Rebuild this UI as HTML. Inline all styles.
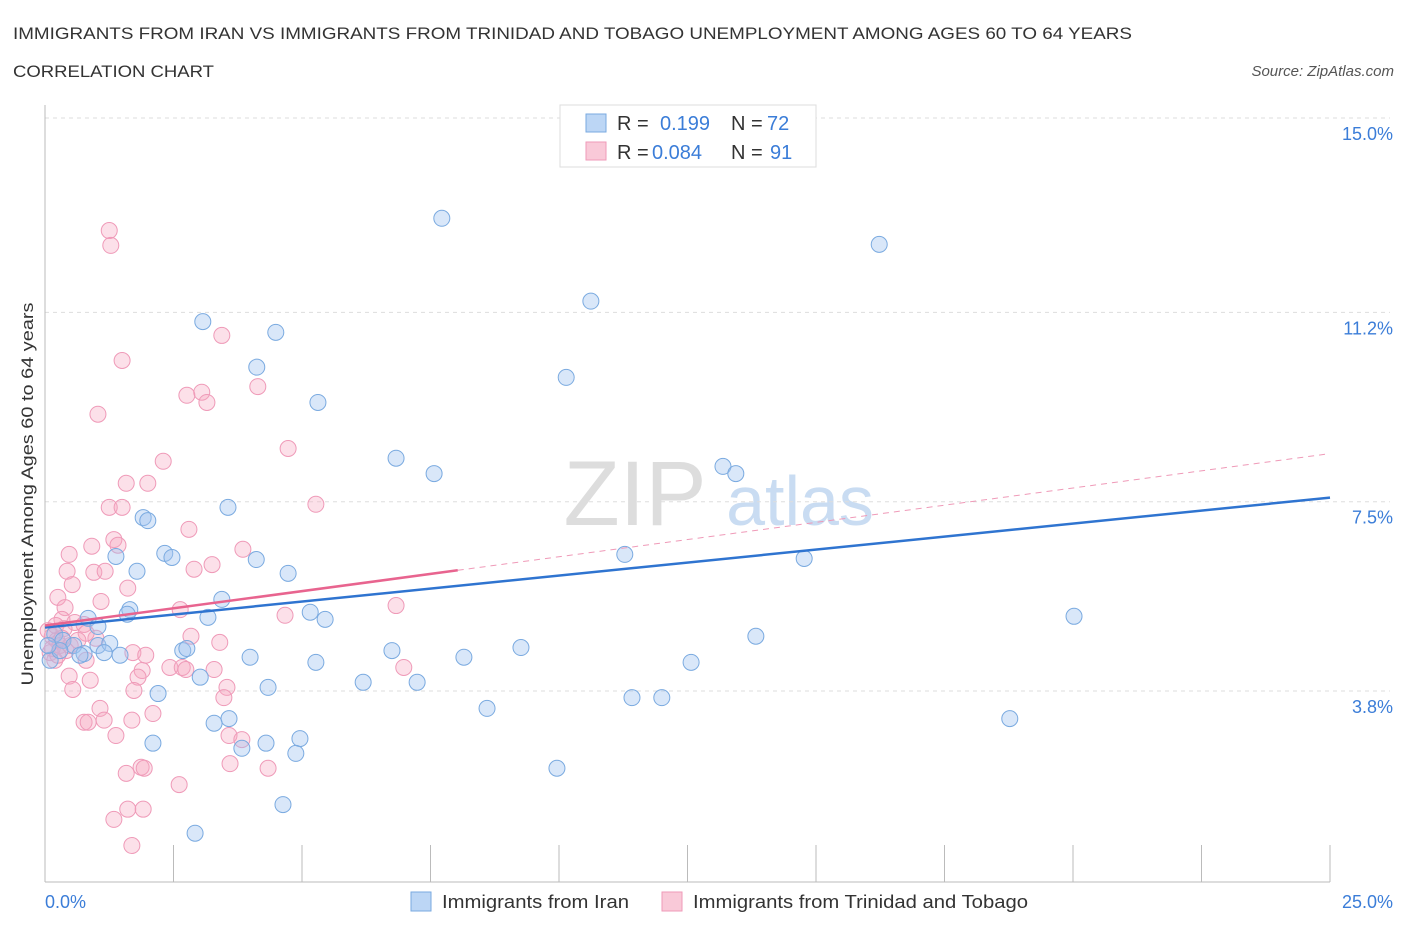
<!DOCTYPE html>
<html><head><meta charset="utf-8"><style>
body{margin:0;background:#fff;font-family:"Liberation Sans",sans-serif;}
svg text{font-family:"Liberation Sans",sans-serif;}
</style></head><body>
<svg id="chart" width="1406" height="930" viewBox="0 0 1406 930" xmlns="http://www.w3.org/2000/svg">
<text x="13" y="39" font-size="17" fill="#333" textLength="1119" lengthAdjust="spacingAndGlyphs">IMMIGRANTS FROM IRAN VS IMMIGRANTS FROM TRINIDAD AND TOBAGO UNEMPLOYMENT AMONG AGES 60 TO 64 YEARS</text>
<text x="13" y="77" font-size="17" fill="#333" textLength="201" lengthAdjust="spacingAndGlyphs">CORRELATION CHART</text>
<text x="1394" y="76" font-size="15" fill="#555" font-style="italic" text-anchor="end">Source: ZipAtlas.com</text>
<g>
<text x="635" y="525" font-size="92" fill="#ddd" text-anchor="middle" font-family="Liberation Serif">ZIP</text>
<text x="800" y="525" font-size="70" fill="#c9dcf2" text-anchor="middle">atlas</text>
</g>
<g id="grid"></g>
<g id="axes"></g>
<g id="points"></g>
<g id="trends"></g>
<text transform="translate(33,494) rotate(-90)" font-size="17" fill="#333" text-anchor="middle" textLength="383" lengthAdjust="spacingAndGlyphs">Unemployment Among Ages 60 to 64 years</text>
<text x="45" y="908" font-size="18" fill="#3b7dd8">0.0%</text>
<text x="1393" y="908" font-size="18" fill="#3b7dd8" text-anchor="end">25.0%</text>
<g>
<rect x="560" y="105" width="256" height="62" fill="#fff" stroke="#ddd"/>
<rect x="586" y="114" width="20" height="18" fill="#bcd6f5" stroke="#7aaae0"/>
<rect x="586" y="142" width="20" height="18" fill="#f9c9d8" stroke="#ef9ab8"/>
<text x="617" y="130" font-size="20" fill="#333">R =</text>
<text x="660" y="130" font-size="20" fill="#3b7dd8">0.199</text>
<text x="731" y="130" font-size="20" fill="#333">N =</text>
<text x="767" y="130" font-size="20" fill="#3b7dd8">72</text>
<text x="617" y="159" font-size="20" fill="#333">R =</text>
<text x="652" y="159" font-size="20" fill="#3b7dd8">0.084</text>
<text x="731" y="159" font-size="20" fill="#333">N =</text>
<text x="770" y="159" font-size="20" fill="#3b7dd8">91</text>
</g>
<g>
<rect x="411" y="892" width="20" height="19" fill="#bcd6f5" stroke="#7aaae0"/>
<text x="442" y="908" font-size="18" fill="#333" textLength="187" lengthAdjust="spacingAndGlyphs">Immigrants from Iran</text>
<rect x="662" y="892" width="20" height="19" fill="#f9c9d8" stroke="#ef9ab8"/>
<text x="693" y="908" font-size="18" fill="#333" textLength="335" lengthAdjust="spacingAndGlyphs">Immigrants from Trinidad and Tobago</text>
</g>
</svg>
<script>
const yTicks=[15.0,11.2,7.5,3.8];
const yTickLabels=["15.0%","11.2%","7.5%","3.8%"];
const xTicks=[0,2.5,5,7.5,10,12.5,15,17.5,20,22.5,25];
const iranX=[7.72,16.23,10.62,3.07,4.49,4.12,10.14,5.31,6.83,7.57,13.19,13.44,3.56,1.91,2.00,2.33,2.47,4.11,11.28,14.77,1.79,4.73,1.38,3.44,1.65,1.60,3.17,5.16,5.45,0.84,1.03,20.02,13.83,0.19,0.35,0.56,0.76,1.03,1.26,1.46,1.15,0.68,2.68,2.76,3.99,5.27,6.75,8.15,9.26,12.57,3.02,4.34,6.19,7.24,2.20,8.60,11.42,12.00,18.77,3.58,3.29,2.10,3.83,4.30,4.96,4.88,9.96,4.63,2.92,0.10,0.29,0.06];
const iranY=[13.04,12.53,11.42,11.02,10.81,10.13,9.93,9.44,8.35,8.05,8.19,8.05,7.39,7.19,7.13,6.49,6.41,6.37,6.47,6.39,6.14,6.10,6.43,5.59,5.39,5.30,5.24,5.34,5.20,5.22,5.06,5.26,4.87,4.91,4.79,4.69,4.53,4.69,4.73,4.50,4.55,4.50,4.59,4.63,4.46,4.36,4.59,4.46,4.65,4.36,4.07,3.87,3.97,3.97,3.75,3.46,3.67,3.67,3.26,3.26,3.17,2.78,2.68,2.78,2.87,2.58,2.29,1.58,1.02,4.40,4.59,4.69];
const ttX=[1.25,1.28,1.50,3.44,4.14,2.76,3.05,3.15,1.03,4.73,2.30,1.58,2.00,1.25,1.50,5.27,2.80,1.34,1.42,0.91,0.47,3.85,0.95,1.17,0.43,3.25,2.90,1.61,0.53,0.25,1.09,0.39,2.63,0.33,0.58,0.76,0.99,0.80,2.84,3.40,4.67,6.83,1.71,1.96,2.43,2.67,2.74,3.29,1.89,1.81,0.47,0.88,0.54,1.73,3.54,3.48,6.98,2.10,1.07,1.69,1.15,0.76,0.84,1.38,3.58,3.83,3.60,4.34,1.87,1.93,1.58,2.61,1.61,1.91,1.34,1.69,0.14,0.23,0.29,0.41,0.10,0.19,0.49,0.64,0.06,0.37,0.80,0.21,0.14,0.25,0.33];
const ttY=[12.80,12.51,10.26,10.75,9.75,9.58,9.64,9.44,9.21,8.54,8.29,7.86,7.86,7.39,7.39,7.45,6.96,6.76,6.65,6.63,6.47,6.57,6.12,6.14,6.14,6.27,6.18,5.81,5.88,5.63,5.55,5.43,5.39,5.20,5.14,5.10,4.83,4.93,4.87,4.75,5.28,5.47,4.55,4.50,4.26,4.26,4.22,4.22,4.20,4.07,4.09,4.01,3.83,3.81,3.87,3.67,4.26,3.36,3.46,3.23,3.23,3.19,3.19,2.93,2.93,2.85,2.38,2.29,2.31,2.29,2.19,1.97,1.49,1.49,1.29,0.78,4.87,4.79,4.69,4.59,4.55,4.40,4.69,4.79,4.98,5.02,4.40,5.08,4.63,4.50,4.83];
const iranTrend=[5.04,7.58];
const ttTrend=[5.08,8.44];
const ttSolidEnd=8.03;

const NS="http://www.w3.org/2000/svg";
const X0=45,X1=1330,YT=118,YB=882;
const xs=v=>X0+v/25*(X1-X0);
const ys=v=>YT+(15-v)*((691-118)/11.2);
function mk(tag,attrs,parent){const e=document.createElementNS(NS,tag);for(const k in attrs)e.setAttribute(k,attrs[k]);parent.appendChild(e);return e;}
const grid=document.getElementById('grid'),axes=document.getElementById('axes');
yTicks.forEach((t,i)=>{
 const l=mk('line',{x1:X0,x2:X1+60,y1:ys(t),y2:ys(t),stroke:'#ddd','stroke-dasharray':'4,4'},grid);
 
 
 const tx=mk('text',{x:1393,y:ys(t)+22,'font-size':18,fill:'#3b7dd8','text-anchor':'end'},grid);
 tx.textContent=yTickLabels[i];
 
 
});
const ax=mk('line',{x1:X0,x2:X1,y1:YB,y2:YB,stroke:'#bbb'},axes);


const ay=mk('line',{x1:X0,x2:X0,y1:105,y2:YB,stroke:'#bbb'},axes);


xTicks.forEach(t=>{
 const l=mk('line',{x1:xs(t),x2:xs(t),y1:845,y2:YB,stroke:'#bbb'},axes);
 
 
});
const pts=document.getElementById('points');
ttX.forEach((x,i)=>{
 const c=mk('circle',{cx:xs(x),cy:ys(ttY[i]),r:8,fill:'rgba(245,165,192,0.35)',stroke:'#ef9ab8','stroke-width':1},pts);
 
 
});
iranX.forEach((x,i)=>{
 const c=mk('circle',{cx:xs(x),cy:ys(iranY[i]),r:8,fill:'rgba(160,196,240,0.4)',stroke:'#7aaae0','stroke-width':1},pts);
 
 
});
const tr=document.getElementById('trends');
const ttAt=v=>ttTrend[0]+(ttTrend[1]-ttTrend[0])*v/25;
const d1=mk('line',{x1:xs(ttSolidEnd),y1:ys(ttAt(ttSolidEnd)),x2:xs(25),y2:ys(ttTrend[1]),stroke:'#ef9ab8','stroke-width':1,'stroke-dasharray':'6,5'},tr);


const t1=mk('line',{x1:xs(0),y1:ys(iranTrend[0]),x2:xs(25),y2:ys(iranTrend[1]),stroke:'#2f74d0','stroke-width':2.5},tr);


const t2=mk('line',{x1:xs(0),y1:ys(ttTrend[0]),x2:xs(ttSolidEnd),y2:ys(ttAt(ttSolidEnd)),stroke:'#e8648f','stroke-width':2.5},tr);


</script>
</body></html>
